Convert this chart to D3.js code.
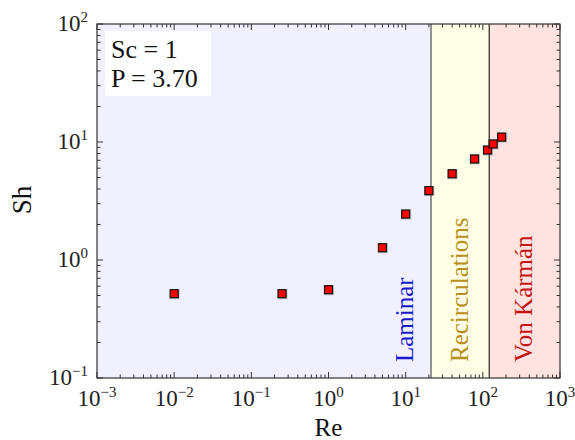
<!DOCTYPE html>
<html><head>
<script src="https://cdn.jsdelivr.net/npm/d3@7"></script>
</head>
<body style="margin:0">
<script>
// ---- data ----
const reValues = [0.01, 0.25, 1, 5, 10, 20, 40, 78, 115, 136, 175];
const shValues = [0.518, 0.518, 0.56, 1.27, 2.45, 3.87, 5.38, 7.18, 8.55, 9.62, 11.0];
const xTickExps = [-3, -2, -1, 0, 1, 2, 3];
const yTickExps = [-1, 0, 1, 2];
const regimeNames = ["Laminar", "Recirculations", "Von K\u00e1rm\u00e1n"];
const regimeBounds = [0.001, 21.3, 121, 1000];
const legendLines = ["Sc = 1", "P = 3.70"];
const xLabel = "Re", yLabel = "Sh";

// ---- layout ----
const W = 575, H = 440;
const m = {left: 97, right: 15, top: 24, bottom: 62};
const iw = W - m.left - m.right, ih = H - m.top - m.bottom;
const regimeFill = ["#f0f0ff", "#fefde6", "#ffe3e1"];
const regimeText = ["#1a1acc", "#b8901a", "#c41414"];
const FONT_CSS = "'Times New Roman', 'Liberation Serif', Tinos, 'Nimbus Roman', serif";

const svg = d3.select("body").append("svg").attr("width", W).attr("height", H)
  .attr("font-family", FONT_CSS);
const g = svg.append("g").attr("transform", `translate(${m.left},${m.top})`);

function txt(parent, size, fill) {
  return parent.append("text")
    .attr("font-family", FONT_CSS)
    .attr("style", `font: ${size}px ${FONT_CSS}`)
    .attr("fill", fill);
}

const x = d3.scaleLog().domain([1e-3, 1e3]).range([0, iw]);
const y = d3.scaleLog().domain([1e-1, 1e2]).range([ih, 0]);

// regime backgrounds
regimeNames.forEach((n, i) => {
  g.append("rect")
    .attr("x", x(regimeBounds[i])).attr("y", 0)
    .attr("width", x(regimeBounds[i+1]) - x(regimeBounds[i]))
    .attr("height", ih).attr("fill", regimeFill[i]);
});
// boundaries
g.append("line").attr("x1", x(regimeBounds[1])).attr("x2", x(regimeBounds[1]))
  .attr("y1", 0).attr("y2", ih).attr("stroke", "#7a7a7a").attr("stroke-width", 1.6);
g.append("line").attr("x1", x(regimeBounds[2])).attr("x2", x(regimeBounds[2]))
  .attr("y1", 0).attr("y2", ih).attr("stroke", "#111").attr("stroke-width", 1.1);

// regime labels (rotated)
regimeNames.forEach((n, i) => {
  let cx;
  if (i === 0) cx = x(regimeBounds[1]) - 26;
  else if (i === 1) cx = (x(regimeBounds[1]) + x(regimeBounds[2])) / 2;
  else cx = x(regimeBounds[2]) + 35;
  txt(g, 25, regimeText[i])
    .attr("transform", `translate(${cx + 8},${ih - 16}) rotate(-90)`)
    .attr("text-anchor", "start")
    .text(n);
});

// ticks (minor + major), inward on all sides
const minorX = [], minorY = [];
for (let e = -3; e < 3; e++) for (let k = 2; k <= 9; k++) minorX.push(k * Math.pow(10, e));
for (let e = -1; e < 2; e++) for (let k = 2; k <= 9; k++) minorY.push(k * Math.pow(10, e));
const tickCol = "#333";
function vt(v, len, top) {
  const px = x(v);
  g.append("line").attr("x1", px).attr("x2", px)
    .attr("y1", top ? 0 : ih).attr("y2", top ? len : ih - len)
    .attr("stroke", tickCol).attr("stroke-width", 1);
}
function ht(v, len, right) {
  const py = y(v);
  g.append("line").attr("y1", py).attr("y2", py)
    .attr("x1", right ? iw : 0).attr("x2", right ? iw - len : len)
    .attr("stroke", tickCol).attr("stroke-width", 1);
}
minorX.forEach(v => { vt(v, 3.5, false); vt(v, 3.5, true); });
xTickExps.forEach(e => { vt(Math.pow(10, e), 6, false); vt(Math.pow(10, e), 6, true); });
minorY.forEach(v => { ht(v, 3.5, false); ht(v, 3.5, true); });
yTickExps.forEach(e => { ht(Math.pow(10, e), 6, false); ht(Math.pow(10, e), 6, true); });

// frame
g.append("rect").attr("x", 0).attr("y", 0).attr("width", iw).attr("height", ih)
  .attr("fill", "none").attr("stroke", "#333").attr("stroke-width", 1.2);

// tick labels
function pow10Label(sel, e) {
  sel.append("tspan").text("10");
  sel.append("tspan").attr("dy", -9).attr("style", "font-size:15px")
    .text(e < 0 ? "\u2212" + (-e) : String(e));
}
xTickExps.forEach(e => {
  const t = txt(g, 23, "#222").attr("x", x(Math.pow(10, e))).attr("y", ih + 28)
    .attr("text-anchor", "middle");
  pow10Label(t, e);
});
yTickExps.forEach(e => {
  const t = txt(g, 23, "#222").attr("x", -9).attr("y", y(Math.pow(10, e)) + 7)
    .attr("text-anchor", "end");
  pow10Label(t, e);
});

// axis titles
txt(svg, 25, "#111").attr("x", m.left + x(1)).attr("y", 436)
  .attr("text-anchor", "middle").text(xLabel);
txt(svg, 27, "#111").attr("transform", `translate(31,200) rotate(-90)`)
  .attr("text-anchor", "middle").text(yLabel);

// markers
const pts = reValues.map((r, i) => [r, shValues[i]]);
const s = 8;
g.selectAll("rect.shadow").data(pts).enter().append("rect").attr("class", "shadow")
  .attr("x", d => x(d[0]) - s/2 - 0.5).attr("y", d => y(d[1]) - s/2 - 0.5)
  .attr("width", s + 2).attr("height", s + 2)
  .attr("fill", "#888").attr("opacity", 0.45);
g.selectAll("rect.pt").data(pts).enter().append("rect").attr("class", "pt")
  .attr("x", d => x(d[0]) - s/2).attr("y", d => y(d[1]) - s/2)
  .attr("width", s).attr("height", s)
  .attr("fill", "#ff0000").attr("stroke", "#111").attr("stroke-width", 1.2);

// legend box
g.append("rect").attr("x", 8).attr("y", 7).attr("width", 106).attr("height", 65).attr("fill", "#fff");
legendLines.forEach((l, i) => {
  txt(g, 26, "#111").attr("x", 14).attr("y", 34 + i * 29).text(l);
});
</script></body></html>
